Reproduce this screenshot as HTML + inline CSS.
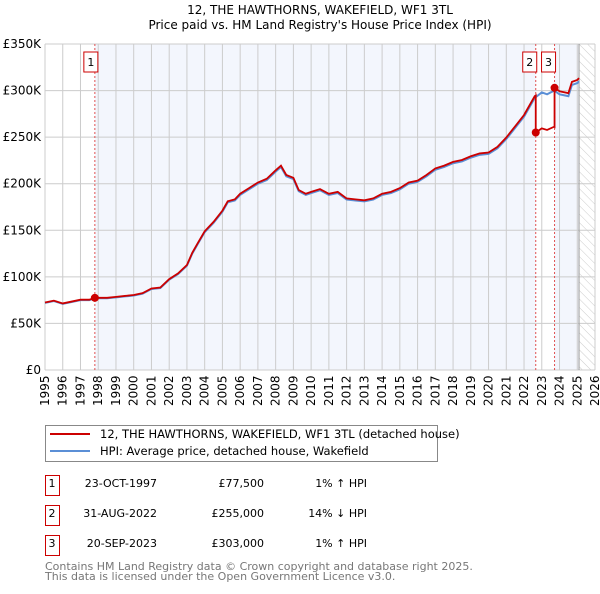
<!DOCTYPE html>
<html><head><meta charset="utf-8"><style>
body{margin:0;background:#fff;font-family:"DejaVu Sans","Liberation Sans",sans-serif;}
svg text{font-family:"DejaVu Sans","Liberation Sans",sans-serif;}
</style></head><body>
<svg id="c" width="600" height="590" xmlns="http://www.w3.org/2000/svg">
<defs><pattern id="hatch" width="6" height="6" patternUnits="userSpaceOnUse" patternTransform="rotate(-45)"><line x1="0" y1="0" x2="0" y2="6" stroke="#ccc" stroke-width="1"/></pattern></defs>
<text x="320" y="14" font-size="12" text-anchor="middle">12, THE HAWTHORNS, WAKEFIELD, WF1 3TL</text>
<text x="320" y="29" font-size="12" text-anchor="middle">Price paid vs. HM Land Registry's House Price Index (HPI)</text>
<g id="plot"></g>
<g>
<rect x="45.5" y="425.5" width="392" height="36" fill="#fff" stroke="#888"/>
<line x1="50" y1="434" x2="90" y2="434" stroke="#cc0000" stroke-width="2"/>
<text x="100" y="438" font-size="11.5">12, THE HAWTHORNS, WAKEFIELD, WF1 3TL (detached house)</text>
<line x1="50" y1="451" x2="90" y2="451" stroke="#5b8fd6" stroke-width="2"/>
<text x="100" y="455" font-size="11.5">HPI: Average price, detached house, Wakefield</text>
</g>
<g font-size="11">
<rect x="45.5" y="475.5" width="14" height="20" fill="#fff" stroke="#cc0000"/><text x="52" y="487" text-anchor="middle">1</text>
<text x="157" y="487" text-anchor="end">23-OCT-1997</text><text x="264" y="487" text-anchor="end">£77,500</text><text x="367" y="487" text-anchor="end">1% ↑ HPI</text>
<rect x="45.5" y="505.5" width="14" height="20" fill="#fff" stroke="#cc0000"/><text x="52" y="517" text-anchor="middle">2</text>
<text x="157" y="517" text-anchor="end">31-AUG-2022</text><text x="264" y="517" text-anchor="end">£255,000</text><text x="367" y="517" text-anchor="end">14% ↓ HPI</text>
<rect x="45.5" y="535.5" width="14" height="20" fill="#fff" stroke="#cc0000"/><text x="52" y="547" text-anchor="middle">3</text>
<text x="157" y="547" text-anchor="end">20-SEP-2023</text><text x="264" y="547" text-anchor="end">£303,000</text><text x="367" y="547" text-anchor="end">1% ↑ HPI</text>
</g>
<text x="45" y="570" font-size="11" fill="#777">Contains HM Land Registry data © Crown copyright and database right 2025.</text>
<text x="45" y="580" font-size="11" fill="#777">This data is licensed under the Open Government Licence v3.0.</text>
</svg>
<script>
const years=[1995,1995.5,1996,1996.5,1997,1997.5,1997.8,1998.5,1999,1999.5,2000,2000.5,2001,2001.5,2002,2002.5,2003,2003.3,2003.6,2004,2004.5,2005,2005.3,2005.7,2006,2006.5,2007,2007.5,2008,2008.3,2008.6,2009,2009.3,2009.7,2010,2010.5,2011,2011.5,2012,2012.5,2013,2013.5,2014,2014.5,2015,2015.5,2016,2016.5,2017,2017.5,2018,2018.5,2019,2019.5,2020,2020.5,2021,2021.5,2022,2022.6,2023,2023.3,2023.7,2024,2024.5,2024.7,2025,2025.1];
const hpi=[72,74,71,73,75,75,77,77,78,79,80,82,87,88,97,103,112,125,135,148,158,170,180,182,188,194,200,204,213,218,208,205,192,188,190,193,188,190,183,182,181,183,188,190,194,200,202,208,215,218,222,224,228,231,232,238,248,260,272,292,298,296,300,296,294,306,308,310];
const saleYears=[1997.81,2022.66,2023.72];
const salePrices=[77.5,255,303];
const saleLabels=["1","2","3"];
const yTicks=[0,50,100,150,200,250,300,350];
const yTickLabels=["£0","£50K","£100K","£150K","£200K","£250K","£300K","£350K"];
const xTicks=[1995,1996,1997,1998,1999,2000,2001,2002,2003,2004,2005,2006,2007,2008,2009,2010,2011,2012,2013,2014,2015,2016,2017,2018,2019,2020,2021,2022,2023,2024,2025,2026];
const dataEnd=2025.1;

const X0=45,X1=595,Y0=370,Y1=44;
const x=y=>X0+(y-1995)*(X1-X0)/31;
const yv=v=>Y0-v*(Y0-Y1)/350;
const NS="http://www.w3.org/2000/svg";
const g=document.getElementById('plot');
function mk(t,a,p){const e=document.createElementNS(NS,t);for(const k in a)e.setAttribute(k,a[k]);(p||g).appendChild(e);return e;}
function hpiAt(t){for(let i=1;i<years.length;i++){if(t<=years[i]){const f=(t-years[i-1])/(years[i]-years[i-1]);return hpi[i-1]+f*(hpi[i]-hpi[i-1]);}}return hpi[hpi.length-1];}

let r=mk('rect',{x:x(saleYears[0]),y:Y1,width:x(saleYears[1])-x(saleYears[0]),height:Y0-Y1,fill:'#f3f6fd'});


r=mk('rect',{x:x(saleYears[2]),y:Y1,width:x(dataEnd)-x(saleYears[2]),height:Y0-Y1,fill:'#f3f6fd'});


r=mk('rect',{x:x(dataEnd),y:Y1,width:X1-x(dataEnd),height:Y0-Y1,fill:'url(#hatch)'});



xTicks.forEach(t=>{const l=mk('line',{x1:x(t),x2:x(t),y1:Y1,y2:Y0,stroke:'#ccc'});


const tx=mk('text',{x:0,y:0,'font-size':12,transform:`translate(${x(t)+4},${Y0+36}) rotate(-90)`});
tx.textContent=t;

});
yTicks.forEach((t,i)=>{const l=mk('line',{x1:X0,x2:X1,y1:yv(t),y2:yv(t),stroke:'#ccc'});


const tx=mk('text',{x:X0-4,y:yv(t)+4,'font-size':12,'text-anchor':'end'});
tx.textContent=yTickLabels[i];

});
let ax=mk('line',{x1:x(dataEnd),x2:x(dataEnd),y1:Y1,y2:Y0,stroke:'#999'});



saleYears.forEach((s,i)=>{const l=mk('line',{x1:x(s),x2:x(s),y1:Y1,y2:Y0,stroke:'#e05050','stroke-dasharray':'2,2'});

});

const hp=mk('polyline',{points:years.map((t,i)=>x(t)+','+yv(hpi[i])).join(' '),fill:'none',stroke:'#5b8fd6','stroke-width':2});



const pts=[];
const ts=[...years,...saleYears].sort((a,b)=>a-b);
ts.forEach(t=>{let k=0;for(let j=0;j<saleYears.length;j++)if(t>=saleYears[j])k=j;
const ratio=salePrices[k]/hpiAt(saleYears[k]);
if(saleYears.includes(t)&&t>saleYears[0]){const kp=k-1;pts.push(x(t)+','+yv(hpiAt(t)*salePrices[kp]/hpiAt(saleYears[kp])));}
pts.push(x(t)+','+yv(hpiAt(t)*ratio));});
const pl=mk('polyline',{points:pts.join(' '),fill:'none',stroke:'#cc0000','stroke-width':1.8});



saleYears.forEach((s,i)=>{const c=mk('circle',{cx:x(s),cy:yv(salePrices[i]),r:4,fill:'#cc0000'});


const bx=x(s)-(i===0?4:6);
const b=mk('rect',{x:bx-7,y:52,width:14,height:20,fill:'#fff',stroke:'#cc0000'});


const tx=mk('text',{x:bx,y:66,'font-size':11,'text-anchor':'middle'});
tx.textContent=saleLabels[i];

});
</script>
</body></html>
